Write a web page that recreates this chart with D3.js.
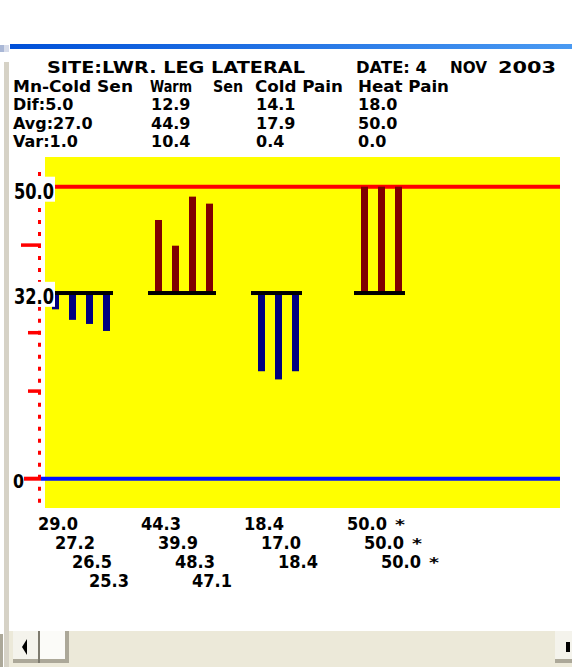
<!DOCTYPE html>
<html><head><meta charset="utf-8">
<script src="https://cdn.jsdelivr.net/npm/d3@7/dist/d3.min.js"></script>
<style>html,body{margin:0;padding:0;background:#fff;overflow:hidden}</style>
</head><body>
<svg id="c" width="572" height="667"></svg>
<script>
// ---- data ----
const categories = ["Cold Sen", "Warm Sen", "Cold Pain", "Heat Pain"];
const coldSen  = [29.0, 27.2, 26.5, 25.3];
const warmSen  = [44.3, 39.9, 48.3, 47.1];
const coldPain = [18.4, 17.0, 18.4];
const heatPain = [50.0, 50.0, 50.0];
const baseline = 32.0;
const yLabelTicks = [50.0, 32.0, 0];
const yMarkTicks = [40, 25, 15];
const headerRow = ["Mn-Cold Sen", "Warm Sen", "Cold Pain", "Heat Pain"];
const difRow = ["Dif:5.0", "12.9", "14.1", "18.0"];
const avgRow = ["Avg:27.0", "44.9", "17.9", "50.0"];
const varRow = ["Var:1.0", "10.4", "0.4", "0.0"];
const cappedFlag = [false, false, false, true];
const titleLeft = "SITE:LWR. LEG LATERAL";
const titleRight = ["DATE: 4", "NOV", "2003"];

const seriesList = [
  {cat: categories[0], values: coldSen,  color: "#000080"},
  {cat: categories[1], values: warmSen,  color: "#800000"},
  {cat: categories[2], values: coldPain, color: "#000080"},
  {cat: categories[3], values: heatPain, color: "#800000"}
];

const svg = d3.select("#c");
const FONT = "'DejaVu Sans', 'Liberation Sans', sans-serif";

// ---- window chrome ----
const defs = svg.append("defs");
const g1 = defs.append("linearGradient").attr("id","tb").attr("x1","0").attr("x2","1");
g1.append("stop").attr("offset","0").attr("stop-color","#0050d8");
g1.append("stop").attr("offset","1").attr("stop-color","#4a9af2");
svg.append("rect").attr("x",10).attr("y",44).attr("width",562).attr("height",5).attr("fill","url(#tb)");
svg.append("rect").attr("x",0).attr("y",45).attr("width",4).attr("height",7).attr("fill","#a9b7d6");
svg.append("rect").attr("x",4).attr("y",45).attr("width",5).attr("height",7).attr("fill","#d7dcea");
svg.append("rect").attr("x",4).attr("y",62).attr("width",5).attr("height",605).attr("fill","#d6d2c6");
svg.append("rect").attr("x",0).attr("y",634).attr("width",3).attr("height",33).attr("fill","#aca899");

// scrollbar
svg.append("rect").attr("x",9).attr("y",631).attr("width",563).attr("height",36).attr("fill","#ece9d9");
svg.append("rect").attr("x",13).attr("y",631).attr("width",26).attr("height",32).attr("fill","#f4f3ec");
svg.append("rect").attr("x",13).attr("y",659).attr("width",26).attr("height",4).attr("fill","#aca899");
svg.append("path").attr("d","M22,647 L27,639 L27,655 Z").attr("fill","#000");
svg.append("rect").attr("x",38).attr("y",631).attr("width",2).attr("height",32).attr("fill","#7d7a6e");
svg.append("rect").attr("x",40).attr("y",631).attr("width",29).attr("height",32).attr("fill","#fbfbf8");
svg.append("rect").attr("x",65).attr("y",631).attr("width",4).attr("height",32).attr("fill","#aca899");
svg.append("rect").attr("x",40).attr("y",659).attr("width",29).attr("height",4).attr("fill","#aca899");
svg.append("rect").attr("x",555).attr("y",631).attr("width",17).attr("height",32).attr("fill","#f4f3ec");
svg.append("rect").attr("x",555).attr("y",659).attr("width",17).attr("height",4).attr("fill","#aca899");
svg.append("rect").attr("x",566).attr("y",642).attr("width",4).attr("height",10).attr("fill","#000");

// ---- text helper ----
function txt(x, y, s, len, size) {
  const t = svg.append("text").attr("x",x).attr("y",y).text(s)
    .attr("font-family",FONT).attr("font-weight","bold")
    .attr("font-size",size || 17).attr("fill","#000");
  if (len) t.attr("textLength",len).attr("lengthAdjust","spacingAndGlyphs");
  return t;
}

// ---- header ----
txt(47, 73, titleLeft, 258, 16);
txt(356, 73, titleRight[0], 71, 16);
txt(450, 73, titleRight[1], 37, 16);
txt(498, 73, titleRight[2], 58, 16);

txt(13, 92, headerRow[0], 120, 16);
txt(150, 92, headerRow[1].split(" ")[0], 42, 16);
txt(213, 92, headerRow[1].split(" ")[1], 30, 16);
txt(255, 92, headerRow[2], 88, 16);
txt(358, 92, headerRow[3], 91, 16);

const statX = [13, 151, 256, 358];
[[difRow,110],[avgRow,129],[varRow,147]].forEach(([row, y]) => {
  row.forEach((s, i) => txt(statX[i], y, s, null, 16));
});

// ---- scales ----
const x = d3.scaleBand().domain(categories).range([45, 457]).paddingInner(0).paddingOuter(0);
const xi = d3.scaleBand().domain([0,1,2,3]).range([7, 75]).paddingInner(0);
const y = d3.scaleLinear().domain([0, 50]).range([478.7, 186.7]);

// ---- plot area ----
svg.append("rect").attr("x",45).attr("y",157).attr("width",515).attr("height",351).attr("fill","#ffff00");

// reference lines
svg.append("line").attr("x1",45).attr("x2",560).attr("y1",y(50)).attr("y2",y(50))
  .attr("stroke","#ff0000").attr("stroke-width",4);
svg.append("line").attr("x1",41).attr("x2",560).attr("y1",y(0)).attr("y2",y(0))
  .attr("stroke","#0010ff").attr("stroke-width",4);

// bars
seriesList.forEach(s => {
  const g = svg.append("g").attr("transform",`translate(${x(s.cat)},0)`);
  g.selectAll("rect").data(s.values).join("rect")
    .attr("x",(d,i)=>xi(i))
    .attr("width",7)
    .attr("y",d=>Math.min(y(d), y(baseline)))
    .attr("height",d=>Math.abs(y(d)-y(baseline)))
    .attr("fill",s.color);
  g.append("rect").attr("x",0).attr("y",y(baseline)-0.8).attr("width",s.values.length*17).attr("height",4).attr("fill","#000");
});

// ---- left axis ----
svg.append("line").attr("x1",39.5).attr("x2",39.5).attr("y1",172).attr("y2",284)
  .attr("stroke","#ff0000").attr("stroke-width",3).attr("stroke-dasharray","4 8");
svg.append("line").attr("x1",39.5).attr("x2",39.5).attr("y1",306.7).attr("y2",505)
  .attr("stroke","#ff0000").attr("stroke-width",3).attr("stroke-dasharray","4 8");
svg.selectAll("line.mt").data(yMarkTicks).join("line").attr("class","mt")
  .attr("x1",d=> d===40 ? 21 : 28).attr("x2",41)
  .attr("y1",d=>y(d)).attr("y2",d=>y(d))
  .attr("stroke","#ff0000").attr("stroke-width",3.5);
svg.append("line").attr("x1",24).attr("x2",41).attr("y1",y(0)).attr("y2",y(0))
  .attr("stroke","#ff0000").attr("stroke-width",4);

yLabelTicks.forEach(v => {
  const yy = y(v);
  if (v !== 0) {
    svg.append("rect").attr("x",13).attr("y",yy-10).attr("width",42).attr("height",25).attr("fill","#fff");
    txt(14, yy+12, v.toFixed(1), 40, 22);
  } else {
    txt(13, yy+9, "0", 11, 20);
  }
});

// ---- bottom value labels ----
const rowY = [530, 549, 568, 587];
seriesList.forEach((s, k) => {
  s.values.forEach((v, i) => {
    const lx = x(s.cat) + xi(i) - 14;
    txt(lx, rowY[i], v.toFixed(1), 40, 17);
    if (cappedFlag[k]) txt(lx + 48, rowY[i] - 1, "*", 10, 14);
  });
});
</script>
</body></html>
